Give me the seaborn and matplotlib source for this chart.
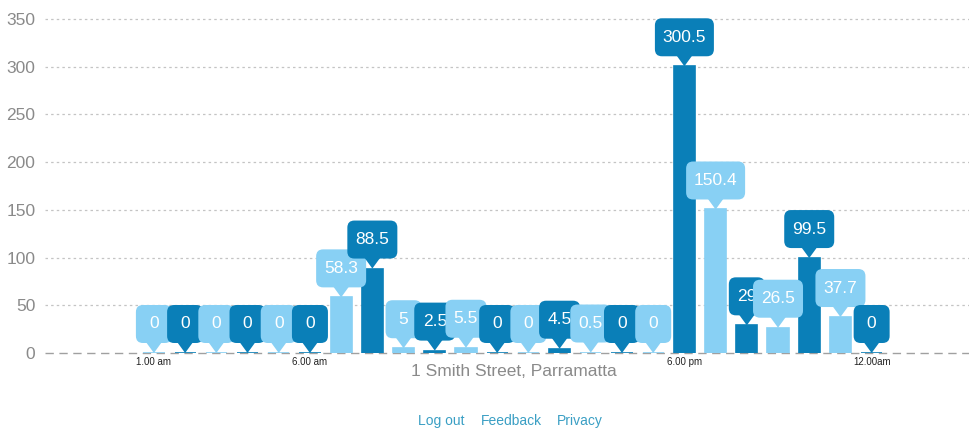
import matplotlib
matplotlib.use("Agg")
import matplotlib.pyplot as plt
import seaborn as sns
from matplotlib.patches import FancyBboxPatch, Polygon
from matplotlib.transforms import IdentityTransform

# ── Data ──────────────────────────────────────────────────────────────────────
hours = [str(h) for h in range(1, 25)]
usage = [0, 0, 0, 0, 0, 0, 58.3, 88.5, 5, 2.5, 5.5, 0,
         0, 4.5, 0.5, 0, 0, 300.5, 150.4, 29, 26.5, 99.5, 37.7, 0]
value_labels = ["0", "0", "0", "0", "0", "0", "58.3", "88.5", "5", "2.5", "5.5", "0",
                "0", "4.5", "0.5", "0", "0", "300.5", "150.4", "29", "26.5", "99.5", "37.7", "0"]
tick_pos = [0, 5, 17, 23]
tick_text = ["1.00 am", "6.00 am", "6.00 pm", "12.00am"]
y_ticks = [0, 50, 100, 150, 200, 250, 300, 350]
title = "1 Smith Street, Parramatta"
footer = [("Log out", 441), ("Feedback", 511), ("Privacy", 580)]

# ── Style ─────────────────────────────────────────────────────────────────────
LIGHT = "#88d0f4"
DARK_BLUE = "#0a7fb8"
GREY = "#8a8a8a"
LINK = "#3a9fc4"
colors = [LIGHT if i % 2 == 0 else DARK_BLUE for i in range(len(hours))]

sns.set_theme(style="white")
plt.rcParams["font.family"] = ["Liberation Sans", "DejaVu Sans"]

W, H = 969, 430
fig = plt.figure(figsize=(W / 100, H / 100), dpi=100)
ax = fig.add_axes([45 / W, (H - 353) / H, 1 - 45 / W, (353 - 9.5) / H])

sns.barplot(x=hours, y=usage, hue=hours, palette=colors, legend=False,
            width=0.68, saturation=1, ax=ax, zorder=3)
for p, c in zip(ax.patches, colors):
    p.set_edgecolor(c)
    p.set_linewidth(1.2)

ax.set_xlim(-3.49, 26.12)
ax.set_ylim(0, 360)
ax.set_yticks(y_ticks)
ax.set_yticklabels([str(t) for t in y_ticks], fontsize=12.5, color=GREY)
ax.set_xticks(tick_pos)
ax.set_xticklabels(tick_text, fontsize=7, color="#222222")
ax.tick_params(axis="both", length=0)
ax.tick_params(axis="y", pad=7)
ax.tick_params(axis="x", pad=3)
ax.set_xlabel("")
ax.set_ylabel("")
for s in ax.spines.values():
    s.set_visible(False)

for t in y_ticks[1:]:
    ax.axhline(t, color="#c4c4c4", lw=0.9, ls=(0, (2, 2.5)), zorder=1)
ax.axhline(0, color="#a0a0a0", lw=1.0, ls=(0, (6, 4)), zorder=2, clip_on=False)

# ── Callouts ──────────────────────────────────────────────────────────────────
fig.canvas.draw()
BOX_H, TRI_H, TRI_W = 38, 10, 16
for i, (v, lab, c) in enumerate(zip(usage, value_labels, colors)):
    px, py = ax.transData.transform((i, v))
    bw = max(36, len(lab) * 9 + 14)
    z = 5 + i
    tri = Polygon([(px - TRI_W / 2, py + TRI_H + 1), (px + TRI_W / 2, py + TRI_H + 1),
                   (px, py)], closed=True, fc=c, ec="none",
                  transform=IdentityTransform(), zorder=z, clip_on=False)
    box = FancyBboxPatch((px - bw / 2, py + TRI_H), bw, BOX_H,
                         boxstyle="round,pad=0,rounding_size=7", fc=c, ec="none",
                         transform=IdentityTransform(), zorder=z, clip_on=False)
    fig.add_artist(tri)
    fig.add_artist(box)
    fig.text(px / W, (py + TRI_H + BOX_H / 2) / H, lab, ha="center", va="center",
             fontsize=12.5, color="white", zorder=z)

fig.text(514 / W, (H - 372) / H, title, ha="center", va="center",
         fontsize=12.5, color=GREY)
for txt, x in footer:
    fig.text(x / W, (H - 421) / H, txt, ha="center", va="center",
             fontsize=10, color=LINK)

fig.savefig("out.png", dpi=100)
